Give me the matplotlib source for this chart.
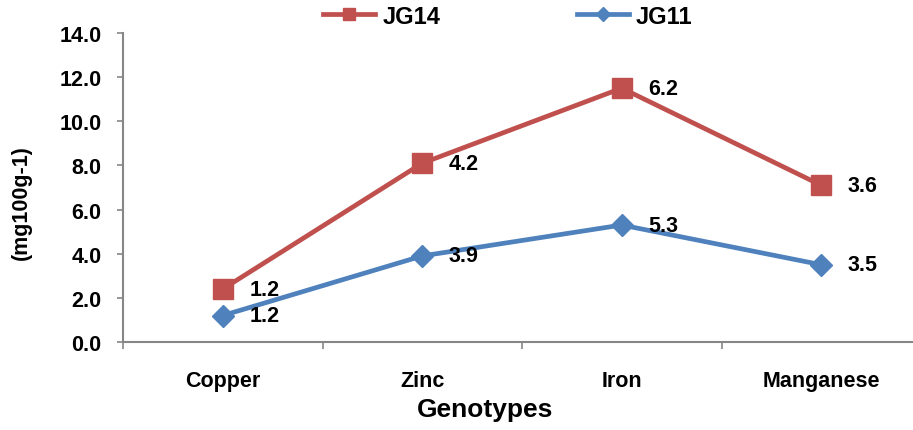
import matplotlib
matplotlib.use("Agg")
import matplotlib.pyplot as plt
import numpy as np

plt.rcParams['font.family'] = ['Liberation Sans', 'DejaVu Sans']
plt.rcParams['font.weight'] = 'bold'

categories = ["Copper", "Zinc", "Iron", "Manganese"]
jg11 = [1.2, 3.9, 5.3, 3.5]
jg14 = [1.2, 4.2, 6.2, 3.6]
y_ticks = [0.0, 2.0, 4.0, 6.0, 8.0, 10.0, 12.0, 14.0]

red = "#C0504D"
blue = "#4F81BD"
axis_grey = "#868686"

# stacked line chart: JG14 sits on top of JG11
x = np.arange(len(categories))
base = np.array(jg11)
top = base + np.array(jg14)

fig = plt.figure(figsize=(9.13, 4.31), dpi=100)
ax = fig.add_axes([123 / 913, 88 / 431, 798 / 913, 309 / 431])

ax.plot(x, top, color=red, lw=3.4, marker="s", ms=15, mec=red, mfc=red,
        label="JG14", zorder=3)
ax.plot(x, base, color=blue, lw=3.4, marker="D", ms=11.5, mec=blue, mfc=blue,
        label="JG11", zorder=3)

for xi, yi, v in zip(x, top, jg14):
    ax.annotate(f"{v:.1f}", (xi, yi), xytext=(19, 0), textcoords="offset points",
                ha="left", va="center", fontsize=15.5, fontweight="bold")
for xi, yi, v in zip(x, base, jg11):
    ax.annotate(f"{v:.1f}", (xi, yi), xytext=(19, 0), textcoords="offset points",
                ha="left", va="center", fontsize=15.5, fontweight="bold")

ax.set_xlim(-0.5, 3.5)
ax.set_ylim(0, 14)
ax.set_yticks(y_ticks)
ax.set_yticklabels([f"{t:.1f}" for t in y_ticks])
ax.set_xticks(x)
ax.set_xticklabels(categories)
ax.set_xticks(np.arange(-0.5, 3.6, 1.0), minor=True)

ax.tick_params(axis="y", which="major", length=4.5, width=1.2, color=axis_grey,
               labelsize=15.5, pad=11)
ax.tick_params(axis="x", which="major", length=0, labelsize=15.5, pad=20)
ax.tick_params(axis="x", which="minor", length=5, width=1.2, color=axis_grey)
for lab in ax.get_xticklabels() + ax.get_yticklabels():
    lab.set_fontweight("bold")

for side in ("top", "right"):
    ax.spines[side].set_visible(False)
for side in ("left", "bottom"):
    ax.spines[side].set_color(axis_grey)
    ax.spines[side].set_linewidth(1.5)

ax.set_xlabel("Genotypes", fontsize=19, fontweight="bold")
ax.xaxis.set_label_coords((485 - 123) / 798, (343 - 398) / 309)
ax.set_ylabel("(mg100g-1)", fontsize=15.5, fontweight="bold")
ax.yaxis.set_label_coords((32 - 123) / 798, (343 - 203) / 309)

leg = fig.legend(loc="center", bbox_to_anchor=(508 / 913, 1 - 17 / 431), ncol=2,
                 frameon=False, fontsize=17, handlelength=2.2, columnspacing=5.8,
                 markerscale=0.6, handletextpad=0.3)
for t in leg.get_texts():
    t.set_fontweight("bold")

fig.savefig("out.png", dpi=100)
